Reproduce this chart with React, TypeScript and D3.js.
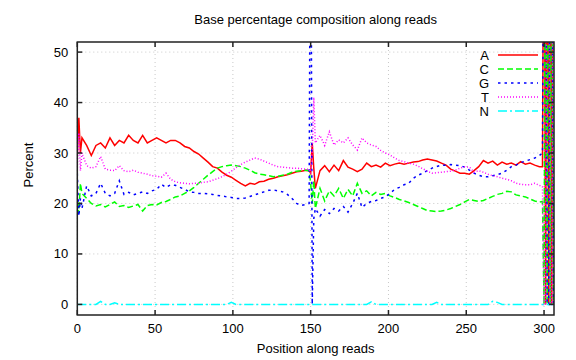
import React, { useEffect, useRef } from "react";
import * as d3 from "d3";

// x positions (dense around the read junction at 150 and the tail at 300+)
const positions = [
  0, 1, 2, 3,
  ...d3.range(6, 148, 3),
  149, 150, 151, 152, 153,
  ...d3.range(156, 298, 3),
  299, 300, 301, 302, 303, 304, 305, 306,
];

const baseA = [
  29.5, 37, 30, 33,
  31.5, 29.5, 31.5, 32, 31, 33, 31.5, 32.5, 32, 33.5, 32.5, 32, 33.5, 32, 32.5, 33,
  32.5, 32, 32.5, 32.5, 32, 31.3, 31, 30.3, 29.8, 29, 28.2, 27.3, 27, 26.2, 25.6, 25.2,
  24.6, 24, 23.5, 24, 23.8, 24.3, 24.4, 24.8, 25, 25.3, 25.5, 25.7, 26, 26.3, 26.4, 26.6,
  26.5, 26, 32, 27, 23,
  26.5, 27.5, 26.3, 27.6, 26.5, 28.5, 27.2, 26.8, 26.3, 26.8, 28, 27.3, 27.6, 27.2, 28, 27.5,
  27.8, 28, 27.8, 28, 28.2, 28.3, 28.6, 28.8, 28.6, 28.4, 28, 27.6, 26.8, 26.4, 26, 26,
  25.8, 26.5, 27.3, 28.5, 28, 28.4, 27.6, 28.2, 27.8, 28, 27.6, 28.3, 27.8, 28, 27.6, 27.3,
  27.3, 100, 0, 100, 0, 100, 0, 100,
];

const baseC = [
  20.5, 18, 24, 22,
  21, 20, 19.5, 19.8, 19.3, 19.8, 20.3, 19.4, 19.6, 19.2, 19.5, 19.8, 18.5, 19.6, 19.8, 19.7,
  20.2, 20.4, 20.8, 21.3, 21.5, 22, 22.5, 23.2, 24, 24.8, 25.6, 26.3, 27, 27.3, 27.5, 27.6,
  27.5, 27.3, 27, 26.6, 26.1, 25.8, 25.7, 25.5, 25.3, 25.4, 25.6, 25.8, 26.2, 26.4, 26.5, 26.6,
  26.5, 24, 20, 24.5, 19,
  23, 20.5, 22.5, 21.5, 23, 21, 22.8, 21.5, 24, 22, 22.5, 21.5, 22.2, 21.8, 22, 21.5,
  21.2, 20.8, 20.5, 20.2, 19.8, 19.4, 19, 18.6, 18.5, 18.4, 18.5, 18.7, 19, 19.4, 19.8, 20.3,
  20.8, 20.6, 20.4, 20.6, 21, 21.4, 21.8, 22, 22.4, 22.3, 21.7, 21.5, 21.3, 20.9, 20.5, 20.3,
  20.4, 0, 100, 0, 100, 0, 100, 0,
];

const baseG = [
  26, 17.5, 21, 19,
  23.5, 21.5, 22, 24, 22, 21.5, 22, 24.5, 21.8, 22.2, 21.7, 22, 22.3, 22, 22.5, 22.8,
  23.8, 23.2, 23.7, 23.6, 23.2, 22.8, 22.3, 22.2, 22, 22, 21.9, 21.8, 21.6, 21.5, 21.3, 21.2,
  21, 21, 21.1, 21.4, 21.7, 22, 22.3, 22.6, 22.7, 22.5, 22.3, 21.8, 21, 20, 19.6, 19.8,
  20, 100, 0, 17, 19,
  17.5, 18.8, 18, 19, 18.5, 19.4, 18.3, 20, 22, 19.2, 20, 20.4, 20.6, 21, 21.3, 22,
  22.8, 23.2, 23.7, 24, 25, 25.6, 26, 26.5, 27, 27.3, 27.6, 27.6, 27.7, 27.6, 27.5, 27.2,
  26.6, 26, 25.6, 25.3, 25.3, 25.5, 25.7, 26, 26.6, 27.3, 27.6, 28.1, 28.4, 28.7, 29, 29.5,
  30, 100, 100, 0, 0, 100, 100, 0,
];

const baseT = [
  27, 34, 26.5, 30,
  27.5, 27, 27.3, 29.3, 26.8, 26.6, 26.5, 27.5, 26.5, 26.3, 26.6, 26.2, 26, 25.8, 25.5, 25.4,
  25.2, 26, 24.8, 24.3, 24.1, 24, 23.9, 24, 24, 24.2, 24.3, 24.6, 24.9, 25.3, 25.8, 26.4,
  27.1, 27.7, 28.2, 28.6, 29, 28.8, 28.4, 28, 27.6, 27.3, 27.2, 27.1, 27, 27, 26.9, 26.8,
  26.8, 26, 30, 41, 32,
  33.5, 31.5, 34.2, 31.6, 32.6, 32, 33, 31.6, 30.6, 33, 32, 31.6, 31.3, 30.5, 30, 29.6,
  29, 28.5, 28.3, 28, 27.8, 27.4, 26.9, 26.4, 26, 26.1, 26.2, 26.3, 26.4, 26.6, 27, 27.3,
  27.2, 26.2, 26.5, 26.2, 25.8, 25.5, 25.3, 25, 24.8, 24.5, 24, 23.8, 23.7, 23.7, 24, 23.6,
  23.3, 0, 0, 100, 100, 0, 0, 100,
];

const baseN = [
  0, 0, 0, 0,
  0, 0, 0, 0.6, 0, 0, 0.3, 0, 0, 0, 0, 0, 0, 0, 0, 0,
  0, 0, 0, 0, 0, 0, 0, 0, 0, 0, 0, 0, 0, 0, 0, 0.4,
  0, 0, 0, 0, 0, 0, 0, 0, 0, 0, 0, 0, 0, 0, 0, 0,
  0, 0, 0, 0, 0,
  0, 0, 0, 0, 0, 0, 0, 0, 0, 0, 0, 0.5, 0, 0, 0, 0,
  0, 0, 0, 0, 0, 0, 0, 0, 0, 0.4, 0, 0, 0, 0, 0, 0,
  0, 0, 0, 0, 0, 0.6, 0.4, 0, 0, 0, 0, 0, 0, 0, 0, 0,
  0, 0, 0, 0, 0, 0, 0, 0,
];

const seriesNames = ["A", "C", "G", "T", "N"];
const seriesValues = [baseA, baseC, baseG, baseT, baseN];
const seriesColors = ["#ff0000", "#00ff00", "#0000ff", "#ff00ff", "#00ffff"];
const seriesDash = [null, "6,3", "2.5,4", "1,2", "9,3,2,3"];

const xTicks = [0, 50, 100, 150, 200, 250, 300];
const yTicks = [0, 10, 20, 30, 40, 50];

const App = () => {
  const ref = useRef(null);

  useEffect(() => {
    const svg = d3.select(ref.current);
    svg.selectAll("*").remove();

    const left = 77.3,
      right = 554,
      top = 42,
      bottom = 315;
    const font = "'Liberation Sans', Arial, sans-serif";

    const x = d3.scaleLinear().domain([0, 306.4]).range([left, right]);
    const y = d3.scaleLinear().domain([-2.1, 52]).range([bottom, top]);

    svg
      .append("defs")
      .append("clipPath")
      .attr("id", "plot-clip")
      .append("rect")
      .attr("x", left)
      .attr("y", top)
      .attr("width", right - left)
      .attr("height", bottom - top);

    // grid
    xTicks.forEach((t) => {
      svg
        .append("line")
        .attr("x1", x(t))
        .attr("x2", x(t))
        .attr("y1", top)
        .attr("y2", bottom)
        .attr("stroke", "#c8c8c8")
        .attr("stroke-dasharray", "1,3");
    });
    yTicks.forEach((t) => {
      svg
        .append("line")
        .attr("x1", left)
        .attr("x2", right)
        .attr("y1", y(t))
        .attr("y2", y(t))
        .attr("stroke", "#c8c8c8")
        .attr("stroke-dasharray", "1,3");
    });

    // data lines
    const line = d3
      .line()
      .x((d) => x(d[0]))
      .y((d) => y(d[1]));

    const plot = svg.append("g").attr("clip-path", "url(#plot-clip)");
    seriesValues.forEach((vals, i) => {
      const pts = positions.map((p, j) => [p, vals[j]]);
      plot
        .append("path")
        .datum(pts)
        .attr("d", line)
        .attr("fill", "none")
        .attr("stroke", seriesColors[i])
        .attr("stroke-width", 1.5)
        .attr("stroke-dasharray", seriesDash[i]);
    });

    // border
    svg
      .append("rect")
      .attr("x", left)
      .attr("y", top)
      .attr("width", right - left)
      .attr("height", bottom - top)
      .attr("fill", "none")
      .attr("stroke", "#222")
      .attr("stroke-width", 1.5);

    // ticks (mirrored, inward)
    xTicks.forEach((t) => {
      svg.append("line").attr("x1", x(t)).attr("x2", x(t)).attr("y1", bottom).attr("y2", bottom - 5).attr("stroke", "#222").attr("stroke-width", 1.5);
      svg.append("line").attr("x1", x(t)).attr("x2", x(t)).attr("y1", top).attr("y2", top + 5).attr("stroke", "#222").attr("stroke-width", 1.5);
      svg
        .append("text")
        .attr("x", x(t))
        .attr("y", bottom + 18)
        .attr("text-anchor", "middle")
        .style("font-family", font)
        .style("font-size", "13px")
        .text(t);
    });
    yTicks.forEach((t) => {
      svg.append("line").attr("x1", left).attr("x2", left + 5).attr("y1", y(t)).attr("y2", y(t)).attr("stroke", "#222").attr("stroke-width", 1.5);
      svg.append("line").attr("x1", right).attr("x2", right - 5).attr("y1", y(t)).attr("y2", y(t)).attr("stroke", "#222").attr("stroke-width", 1.5);
      svg
        .append("text")
        .attr("x", left - 9)
        .attr("y", y(t))
        .attr("dy", "0.35em")
        .attr("text-anchor", "end")
        .style("font-family", font)
        .style("font-size", "13px")
        .text(t);
    });

    // titles
    svg
      .append("text")
      .attr("x", (left + right) / 2)
      .attr("y", 24)
      .attr("text-anchor", "middle")
      .style("font-family", font)
      .style("font-size", "13px")
      .text("Base percentage composition along reads");

    svg
      .append("text")
      .attr("x", (left + right) / 2)
      .attr("y", 353)
      .attr("text-anchor", "middle")
      .style("font-family", font)
      .style("font-size", "13px")
      .text("Position along reads");

    svg
      .append("text")
      .attr("transform", "rotate(-90)")
      .attr("x", -165)
      .attr("y", 33)
      .attr("text-anchor", "middle")
      .style("font-family", font)
      .style("font-size", "13px")
      .text("Percent");

    // legend
    seriesNames.forEach((name, i) => {
      const ly = 55 + i * 14;
      svg
        .append("text")
        .attr("x", 489)
        .attr("y", ly)
        .attr("dy", "0.35em")
        .attr("text-anchor", "end")
        .style("font-family", font)
        .style("font-size", "13px")
        .text(name);
      svg
        .append("line")
        .attr("x1", 498)
        .attr("x2", 538)
        .attr("y1", ly)
        .attr("y2", ly)
        .attr("stroke", seriesColors[i])
        .attr("stroke-width", 1.5)
        .attr("stroke-dasharray", seriesDash[i]);
    });
  }, []);

  return (
    <svg
      ref={ref}
      width={576}
      height={360}
      style={{ position: "absolute", left: 0, top: 0, background: "#fff" }}
    />
  );
};

export default App;
